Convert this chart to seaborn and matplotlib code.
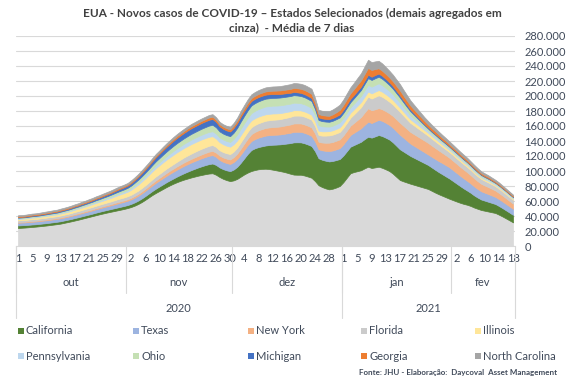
import numpy as np
import pandas as pd
import matplotlib
matplotlib.use('Agg')
import matplotlib.pyplot as plt
import matplotlib.ticker as mticker
from matplotlib.patches import Rectangle
import seaborn as sns

# 7-day average of new cases (thousands/day), 1 Oct 2020 .. 18 Feb 2021
start_date = '2020-10-01'
end_date = '2021-02-18'
month_abbr = {10: 'out', 11: 'nov', 12: 'dez', 1: 'jan', 2: 'fev'}

# all other states, grey at the bottom
others = [
    24.0, 24.3, 24.6, 25.0, 25.4, 25.8, 26.3, 26.8, 27.3, 27.9,
    28.5, 29.1, 29.8, 30.8, 31.8, 32.8, 33.9, 35.0, 36.2, 37.4,
    38.6, 39.8, 41.0, 42.2, 43.3, 44.4, 45.4, 46.4, 47.4, 48.4,
    49.4, 50.6, 52.0, 53.8, 56.0, 58.6, 61.6, 64.8, 68.0, 70.8,
    73.4, 76.0, 78.6, 81.0, 83.2, 85.2, 87.0, 88.6, 90.0, 91.4,
    92.6, 93.8, 94.8, 95.8, 96.6, 97.0, 95.0, 92.0, 89.6, 87.8,
    86.5, 87.5, 89.5, 92.5, 95.5, 98.0, 100.0, 101.3, 102.3, 102.8,
    103.0, 102.6, 101.8, 100.9, 100.0, 99.0, 97.8, 96.4, 95.2, 95.0,
    95.0, 94.0, 92.6, 91.0, 86.5, 81.0, 78.6, 76.8, 75.5, 76.4,
    78.0, 80.0, 85.0, 91.0, 97.0, 98.6, 99.8, 101.0, 103.5, 105.7,
    104.0, 104.8, 105.7, 104.2, 102.2, 100.0, 96.5, 92.2, 88.0, 86.2,
    84.6, 83.0, 81.6, 80.2, 78.8, 77.4, 76.0, 73.6, 71.2, 69.0,
    67.0, 65.0, 63.0, 61.2, 59.4, 57.7, 56.2, 55.0, 53.4, 51.3,
    49.6, 48.0, 47.0, 46.0, 45.0, 44.0, 41.8, 39.4, 36.8, 34.2, 31.5]

california = [
    3.4, 3.4, 3.3, 3.3, 3.3, 3.2, 3.2, 3.2, 3.2, 3.2,
    3.2, 3.2, 3.2, 3.2, 3.2, 3.2, 3.3, 3.3, 3.3, 3.3,
    3.3, 3.3, 3.4, 3.4, 3.5, 3.5, 3.6, 3.7, 3.8, 3.9,
    4.0, 4.0, 4.2, 4.4, 4.6, 4.8, 5.0, 5.2, 5.4, 5.7,
    6.0, 6.2, 6.5, 6.7, 7.0, 7.5, 8.0, 8.6, 9.2, 9.8,
    10.4, 11.0, 11.6, 12.1, 12.6, 13.0, 13.1, 12.8, 12.9, 13.1,
    13.3, 14.5, 16.2, 18.5, 21.5, 25.0, 28.0, 29.0, 29.6, 30.2,
    31.0, 32.0, 33.2, 34.3, 35.5, 37.0, 38.8, 40.8, 43.0, 43.3,
    43.2, 43.0, 42.7, 42.3, 40.0, 36.0, 36.4, 36.9, 37.3, 37.0,
    36.6, 36.0, 35.6, 35.4, 35.4, 36.0, 37.0, 38.0, 39.0, 40.0,
    40.5, 41.4, 42.3, 42.4, 42.2, 42.0, 41.8, 41.5, 41.0, 39.8,
    38.4, 37.0, 36.0, 35.0, 34.0, 33.0, 32.0, 31.2, 30.4, 29.5,
    28.7, 27.8, 27.0, 25.5, 24.0, 22.4, 20.7, 19.0, 17.6, 16.2,
    15.0, 14.0, 13.5, 13.0, 12.5, 12.0, 11.6, 11.2, 10.8, 10.4, 10.0]

texas = [
    3.6, 3.6, 3.6, 3.7, 3.7, 3.7, 3.7, 3.8, 3.8, 3.8,
    3.8, 3.8, 3.9, 3.9, 3.9, 4.0, 4.0, 4.1, 4.2, 4.3,
    4.3, 4.4, 4.5, 4.6, 4.7, 4.8, 4.9, 5.1, 5.3, 5.5,
    5.6, 5.8, 6.0, 6.3, 6.5, 6.8, 7.0, 7.2, 7.5, 7.8,
    8.0, 8.3, 8.5, 8.8, 9.0, 9.3, 9.5, 9.8, 10.0, 10.2,
    10.4, 10.5, 10.7, 10.9, 11.1, 11.2, 10.8, 10.0, 9.8, 9.7,
    9.6, 10.0, 10.5, 11.0, 11.4, 11.7, 12.0, 12.3, 12.6, 12.9,
    13.2, 13.2, 13.2, 13.2, 13.2, 13.4, 13.6, 13.8, 14.0, 14.0,
    14.0, 13.9, 13.8, 13.6, 13.0, 12.0, 12.6, 13.2, 13.8, 14.0,
    14.3, 14.6, 15.0, 15.3, 15.6, 16.4, 17.2, 18.0, 19.0, 20.0,
    19.5, 19.9, 20.3, 20.2, 19.9, 19.5, 19.5, 19.5, 19.5, 18.5,
    17.5, 16.5, 16.0, 15.5, 15.0, 14.5, 14.0, 14.2, 14.5, 14.7,
    14.9, 15.0, 15.0, 14.6, 14.2, 13.8, 13.4, 13.0, 12.5, 12.0,
    11.5, 11.0, 10.6, 10.3, 9.9, 9.5, 9.2, 8.9, 8.6, 8.3, 8.0]

new_york = [
    0.9, 0.9, 0.9, 1.0, 1.0, 1.0, 1.0, 1.1, 1.1, 1.1,
    1.1, 1.1, 1.2, 1.2, 1.2, 1.2, 1.3, 1.3, 1.3, 1.4,
    1.4, 1.4, 1.5, 1.5, 1.5, 1.6, 1.6, 1.7, 1.8, 1.8,
    1.9, 2.0, 2.1, 2.3, 2.4, 2.6, 2.7, 2.9, 3.1, 3.3,
    3.5, 3.7, 3.9, 4.0, 4.2, 4.3, 4.4, 4.6, 4.7, 4.8,
    4.9, 5.0, 5.2, 5.3, 5.5, 5.6, 5.7, 5.7, 5.8, 5.9,
    6.0, 6.5, 7.1, 7.8, 8.3, 8.8, 9.2, 9.5, 9.8, 10.0,
    10.2, 10.3, 10.4, 10.5, 10.6, 10.8, 10.9, 11.0, 11.2, 11.2,
    11.2, 11.2, 11.2, 11.2, 10.8, 10.0, 10.4, 10.8, 11.2, 11.3,
    11.5, 11.6, 11.8, 12.1, 12.4, 13.2, 14.1, 15.0, 16.5, 18.0,
    17.0, 16.2, 15.6, 15.5, 15.5, 15.5, 15.7, 15.8, 16.0, 15.8,
    15.6, 15.5, 15.5, 15.5, 15.5, 15.5, 15.5, 15.0, 14.6, 14.2,
    13.6, 13.2, 12.7, 12.5, 12.3, 12.0, 11.8, 11.5, 11.1, 10.8,
    10.4, 10.0, 9.6, 9.3, 8.9, 8.5, 8.2, 7.9, 7.6, 7.3, 7.0]

florida = [
    2.3, 2.3, 2.3, 2.3, 2.4, 2.4, 2.4, 2.4, 2.4, 2.5,
    2.5, 2.5, 2.5, 2.6, 2.6, 2.7, 2.8, 2.9, 3.0, 3.0,
    3.1, 3.2, 3.2, 3.3, 3.4, 3.5, 3.6, 3.7, 3.8, 3.9,
    3.9, 4.0, 4.1, 4.3, 4.4, 4.5, 4.6, 4.8, 5.0, 5.2,
    5.3, 5.5, 5.7, 5.8, 6.0, 6.2, 6.5, 6.7, 6.9, 7.1,
    7.3, 7.5, 7.6, 7.7, 7.8, 7.8, 7.5, 7.2, 7.2, 7.2,
    7.2, 7.6, 8.0, 8.5, 8.8, 9.0, 9.2, 9.3, 9.4, 9.5,
    9.6, 9.6, 9.7, 9.7, 9.8, 9.9, 10.0, 10.2, 10.4, 10.4,
    10.4, 10.4, 10.3, 10.3, 9.8, 9.0, 9.2, 9.5, 9.7, 9.8,
    9.8, 9.9, 10.1, 10.3, 10.5, 11.3, 12.1, 13.0, 14.2, 15.4,
    15.6, 16.5, 17.0, 16.6, 16.1, 15.5, 15.2, 14.8, 14.5, 13.6,
    12.8, 12.0, 11.5, 11.0, 10.5, 10.0, 9.5, 9.2, 8.8, 8.5,
    8.1, 7.8, 7.5, 7.4, 7.3, 7.2, 7.1, 7.0, 6.9, 6.7,
    6.6, 6.5, 6.3, 6.2, 6.0, 5.8, 5.6, 5.5, 5.3, 5.2, 5.0]

illinois = [
    1.8, 1.8, 1.9, 1.9, 2.0, 2.0, 2.1, 2.2, 2.2, 2.3,
    2.4, 2.5, 2.6, 2.7, 2.8, 2.9, 3.0, 3.1, 3.2, 3.3,
    3.5, 3.6, 3.8, 3.9, 4.1, 4.3, 4.6, 4.9, 5.2, 5.5,
    5.8, 6.0, 6.6, 7.3, 8.0, 8.7, 9.4, 10.0, 10.6, 11.1,
    11.5, 11.8, 12.0, 12.3, 12.5, 12.6, 12.6, 12.6, 12.6, 12.6,
    12.5, 12.5, 12.4, 12.2, 12.0, 11.8, 11.3, 10.8, 10.4, 10.0,
    9.8, 9.7, 9.6, 9.6, 9.5, 9.3, 9.2, 9.0, 8.9, 8.8,
    8.6, 8.5, 8.4, 8.2, 8.0, 7.8, 7.7, 7.5, 7.3, 7.2,
    7.0, 6.9, 6.8, 6.6, 6.2, 5.8, 5.7, 5.7, 5.7, 5.8,
    6.0, 6.2, 6.4, 6.6, 6.8, 6.8, 6.8, 6.8, 6.8, 6.8,
    6.9, 7.0, 7.0, 6.8, 6.6, 6.4, 6.1, 5.9, 5.6, 5.3,
    5.0, 4.8, 4.6, 4.4, 4.2, 4.0, 3.8, 3.6, 3.5, 3.3,
    3.1, 3.0, 2.8, 2.7, 2.6, 2.6, 2.5, 2.4, 2.3, 2.2,
    2.1, 2.0, 1.9, 1.9, 1.8, 1.7, 1.7, 1.6, 1.6, 1.5, 1.5]

pennsylvania = [
    0.8, 0.8, 0.8, 0.8, 0.9, 0.9, 0.9, 0.9, 1.0, 1.0,
    1.0, 1.0, 1.1, 1.1, 1.1, 1.2, 1.2, 1.2, 1.3, 1.3,
    1.4, 1.4, 1.5, 1.5, 1.6, 1.6, 1.7, 1.8, 1.9, 1.9,
    2.0, 2.1, 2.3, 2.5, 2.7, 2.9, 3.2, 3.4, 3.6, 3.9,
    4.1, 4.3, 4.5, 4.8, 5.0, 5.2, 5.4, 5.6, 5.8, 6.0,
    6.1, 6.2, 6.3, 6.4, 6.5, 6.6, 6.5, 6.3, 6.3, 6.3,
    6.3, 7.0, 7.8, 8.5, 8.9, 9.3, 9.6, 9.8, 10.0, 10.2,
    10.4, 10.4, 10.4, 10.4, 10.4, 10.3, 10.2, 10.1, 10.0, 9.8,
    9.6, 9.5, 9.3, 9.2, 8.2, 7.2, 6.8, 6.4, 6.0, 6.2,
    6.4, 6.6, 6.8, 7.0, 7.2, 7.5, 7.9, 8.2, 8.6, 9.0,
    9.0, 9.0, 9.0, 8.7, 8.3, 8.0, 7.6, 7.2, 6.8, 6.3,
    5.9, 5.4, 4.9, 4.4, 3.9, 3.4, 3.0, 2.8, 2.7, 2.5,
    2.4, 2.3, 2.2, 2.1, 2.1, 2.0, 2.0, 1.9, 1.8, 1.8,
    1.7, 1.6, 1.6, 1.5, 1.5, 1.4, 1.4, 1.3, 1.3, 1.2, 1.2]

ohio = [
    0.9, 0.9, 1.0, 1.0, 1.0, 1.1, 1.1, 1.1, 1.2, 1.2,
    1.3, 1.3, 1.4, 1.4, 1.5, 1.5, 1.6, 1.6, 1.7, 1.7,
    1.8, 1.9, 2.0, 2.1, 2.2, 2.3, 2.4, 2.5, 2.6, 2.8,
    2.9, 3.1, 3.3, 3.5, 3.8, 4.0, 4.2, 4.4, 4.8, 5.2,
    5.5, 5.9, 6.2, 6.5, 6.8, 7.0, 7.2, 7.3, 7.5, 7.6,
    7.7, 7.8, 8.0, 8.2, 8.4, 8.6, 8.4, 8.0, 7.9, 7.8,
    7.8, 8.3, 8.9, 9.5, 9.8, 10.0, 10.2, 10.3, 10.3, 10.4,
    10.4, 10.4, 10.4, 10.4, 10.4, 10.3, 10.2, 10.1, 10.0, 9.8,
    9.6, 9.5, 9.3, 9.2, 8.1, 7.0, 6.8, 6.6, 6.4, 6.5,
    6.5, 6.6, 6.7, 6.8, 6.8, 7.2, 7.6, 8.0, 8.4, 8.9,
    8.9, 8.9, 8.8, 8.5, 8.2, 7.8, 7.4, 7.0, 6.6, 6.1,
    5.6, 5.2, 4.6, 4.0, 3.5, 3.0, 2.6, 2.5, 2.4, 2.3,
    2.2, 2.1, 2.0, 2.0, 1.9, 1.9, 1.8, 1.8, 1.7, 1.7,
    1.6, 1.5, 1.5, 1.4, 1.3, 1.2, 1.2, 1.1, 1.1, 1.0, 1.0]

michigan = [
    0.8, 0.8, 0.8, 0.9, 0.9, 0.9, 1.0, 1.0, 1.1, 1.1,
    1.2, 1.2, 1.3, 1.3, 1.4, 1.4, 1.5, 1.5, 1.6, 1.6,
    1.7, 1.8, 1.9, 2.0, 2.1, 2.2, 2.3, 2.4, 2.6, 2.7,
    2.8, 2.9, 3.2, 3.5, 3.8, 4.2, 4.5, 4.8, 5.1, 5.4,
    5.7, 6.0, 6.3, 6.5, 6.8, 7.0, 7.1, 7.2, 7.4, 7.5,
    7.6, 7.6, 7.7, 7.7, 7.8, 7.8, 7.3, 6.8, 6.5, 6.3,
    6.2, 6.3, 6.4, 6.5, 6.4, 6.2, 6.0, 5.8, 5.7, 5.5,
    5.4, 5.3, 5.1, 5.0, 4.8, 4.7, 4.6, 4.4, 4.3, 4.2,
    4.2, 4.1, 4.1, 4.0, 3.8, 3.6, 3.6, 3.6, 3.6, 3.7,
    3.8, 4.0, 4.1, 4.3, 4.4, 4.4, 4.4, 4.4, 4.4, 4.4,
    4.3, 4.3, 4.2, 4.0, 3.8, 3.6, 3.4, 3.2, 3.0, 2.8,
    2.6, 2.4, 2.2, 2.0, 1.8, 1.6, 1.5, 1.4, 1.3, 1.3,
    1.2, 1.2, 1.1, 1.1, 1.1, 1.0, 1.0, 1.0, 0.9, 0.9,
    0.9, 0.8, 0.8, 0.8, 0.7, 0.7, 0.7, 0.7, 0.6, 0.6, 0.6]

georgia = [
    1.2, 1.2, 1.2, 1.2, 1.2, 1.2, 1.2, 1.2, 1.2, 1.2,
    1.2, 1.2, 1.2, 1.2, 1.2, 1.2, 1.2, 1.2, 1.3, 1.3,
    1.3, 1.3, 1.3, 1.3, 1.4, 1.4, 1.4, 1.4, 1.5, 1.5,
    1.5, 1.5, 1.6, 1.6, 1.7, 1.7, 1.8, 1.8, 1.9, 2.0,
    2.0, 2.1, 2.2, 2.2, 2.3, 2.4, 2.5, 2.5, 2.6, 2.7,
    2.7, 2.8, 2.8, 2.9, 3.0, 3.0, 2.9, 2.8, 2.8, 2.8,
    2.9, 3.1, 3.3, 3.5, 3.6, 3.8, 3.9, 4.0, 4.1, 4.2,
    4.3, 4.4, 4.5, 4.6, 4.7, 4.8, 4.9, 5.1, 5.3, 5.4,
    5.4, 5.5, 5.5, 5.5, 5.0, 4.4, 4.4, 4.4, 4.4, 4.9,
    5.4, 6.0, 6.5, 7.0, 7.5, 7.8, 8.2, 8.5, 8.8, 9.2,
    9.0, 8.0, 7.0, 6.8, 6.6, 6.5, 6.5, 6.5, 6.5, 6.1,
    5.8, 5.4, 5.1, 4.8, 4.5, 4.2, 4.0, 3.7, 3.5, 3.2,
    3.0, 2.8, 2.6, 2.5, 2.4, 2.3, 2.3, 2.2, 2.1, 2.0,
    1.9, 1.8, 1.8, 1.7, 1.6, 1.5, 1.5, 1.4, 1.3, 1.3, 1.2]

north_carolina = [
    1.3, 1.3, 1.3, 1.4, 1.4, 1.4, 1.4, 1.5, 1.5, 1.5,
    1.5, 1.5, 1.6, 1.6, 1.6, 1.7, 1.7, 1.8, 1.8, 1.8,
    1.9, 1.9, 2.0, 2.0, 2.0, 2.1, 2.1, 2.1, 2.1, 2.1,
    2.1, 2.1, 2.2, 2.2, 2.2, 2.3, 2.3, 2.3, 2.4, 2.5,
    2.5, 2.6, 2.6, 2.7, 2.8, 2.8, 2.9, 3.0, 3.0, 3.1,
    3.1, 3.2, 3.2, 3.3, 3.4, 3.4, 3.3, 3.2, 3.2, 3.3,
    3.4, 3.7, 4.0, 4.3, 4.5, 4.8, 5.0, 5.1, 5.2, 5.3,
    5.4, 5.5, 5.6, 5.7, 5.8, 6.0, 6.2, 6.4, 6.6, 6.7,
    6.7, 6.8, 6.8, 6.8, 6.2, 5.6, 5.8, 6.0, 6.2, 6.5,
    6.8, 7.0, 7.3, 7.7, 8.0, 8.5, 9.0, 9.5, 10.2, 11.0,
    10.5, 10.2, 10.0, 9.7, 9.3, 9.0, 8.8, 8.6, 8.5, 7.9,
    7.3, 6.8, 6.3, 5.8, 5.3, 4.9, 4.6, 4.4, 4.2, 4.0,
    3.9, 3.7, 3.6, 3.5, 3.3, 3.2, 3.1, 3.0, 2.8, 2.7,
    2.5, 2.4, 2.3, 2.2, 2.1, 2.0, 1.9, 1.8, 1.7, 1.6, 1.5]

states = ['California', 'Texas', 'New York', 'Florida', 'Illinois',
          'Pennsylvania', 'Ohio', 'Michigan', 'Georgia', 'North Carolina']
state_values = [california, texas, new_york, florida, illinois,
                pennsylvania, ohio, michigan, georgia, north_carolina]
state_colors = ['#548235', '#9DB4E0', '#F4B183', '#CBCBCB', '#FFE699',
                '#BDD7EE', '#C5E0B4', '#4472C4', '#ED7D31', '#A5A5A5']
others_color = '#D9D9D9'

title = ('EUA - Novos casos de COVID-19 – Estados Selecionados (demais agregados em',
         'cinza)  - Média de 7 dias')
source = 'Fonte: JHU - Elaboração:  Daycoval  Asset Management'

dates = pd.date_range(start_date, end_date, freq='D')
df = pd.DataFrame({'Demais': others, **dict(zip(states, state_values))}, index=dates) * 1000

sns.set_theme(style='white')
plt.rcParams['font.family'] = ['Lato', 'DejaVu Sans']
txt = '#404A5A'
W, H = 567, 379

fig = plt.figure(figsize=(W / 100, H / 100), dpi=100)
# plot area: x 16..515 px, y 36..246 px
ax = fig.add_axes([16.2 / W, 1 - 246 / H, (514.8 - 16.2) / W, 210 / H])

x = np.arange(len(df))
colors = [others_color] + state_colors
polys = ax.stackplot(x, df.T.values, colors=colors)
for p, c in zip(polys, colors):
    p.set_edgecolor(c)
    p.set_linewidth(0.5)

ax.set_xlim(-0.5, len(df) - 0.5)
ax.set_ylim(0, 280000)
ax.yaxis.set_major_locator(mticker.MultipleLocator(20000))
ax.yaxis.set_major_formatter(mticker.FuncFormatter(lambda v, p: f'{int(v):,}'.replace(',', '.')))
ax.yaxis.tick_right()
ax.grid(axis='y', color='#D9D9D9', lw=0.8)
ax.set_axisbelow(True)
sns.despine(ax=ax, left=True, right=True, top=True, bottom=False)
ax.spines['bottom'].set_color('#D9D9D9')
ax.spines['bottom'].set_linewidth(0.8)
ax.tick_params(axis='y', length=0, pad=7, labelsize=8, labelcolor=txt)

ax.set_xticks(x[::4])
ax.set_xticklabels(dates.day[::4])
ax.tick_params(axis='x', length=0, pad=5, labelsize=8, labelcolor=txt)

# month and year rows under the day numbers
trans = ax.get_xaxis_transform()
ph = 210.0
sep_kw = dict(transform=trans, clip_on=False, color='#D9D9D9', lw=0.8)
pos = pd.Series(x, index=dates)
for (yr, mo), grp in pos.groupby([dates.year, dates.month]):
    ax.text((grp.iloc[0] + grp.iloc[-1]) / 2, -37 / ph, month_abbr[mo], transform=trans,
            ha='center', va='center', fontsize=8, color=txt)
    ax.plot([grp.iloc[0] - 0.5] * 2, [0, -47 / ph], **sep_kw)
for yr, grp in pos.groupby(dates.year):
    ax.text((grp.iloc[0] + grp.iloc[-1]) / 2, -62 / ph, str(yr), transform=trans,
            ha='center', va='center', fontsize=8, color=txt)
    ax.plot([grp.iloc[0] - 0.5] * 2, [0, -72 / ph], **sep_kw)
ax.plot([len(df) - 0.5] * 2, [0, -72 / ph], **sep_kw)

# title
fig.text(292 / W, 1 - 13 / H, title[0], ha='center', va='center',
         fontsize=8.5, fontweight='bold', color='#404040')
fig.text(292 / W, 1 - 28 / H, title[1], ha='center', va='center',
         fontsize=8.5, fontweight='bold', color='#404040')

# legend, 2 rows x 5 columns
leg_x = [18, 133, 248, 361, 475]
leg_y = [331, 356]
for i, (name, col) in enumerate(zip(states, state_colors)):
    px, py = leg_x[i % 5], leg_y[i // 5]
    fig.patches.append(Rectangle((px / W, 1 - (py + 3) / H), 6 / W, 6 / H,
                                 transform=fig.transFigure, facecolor=col, edgecolor='none'))
    fig.text((px + 8) / W, 1 - py / H, name, ha='left', va='center', fontsize=8, color=txt)

fig.text(557 / W, 1 - 372 / H, source, ha='right', va='center',
         fontsize=5.8, fontweight='bold', color=txt)

fig.savefig('out.png', dpi=100)
